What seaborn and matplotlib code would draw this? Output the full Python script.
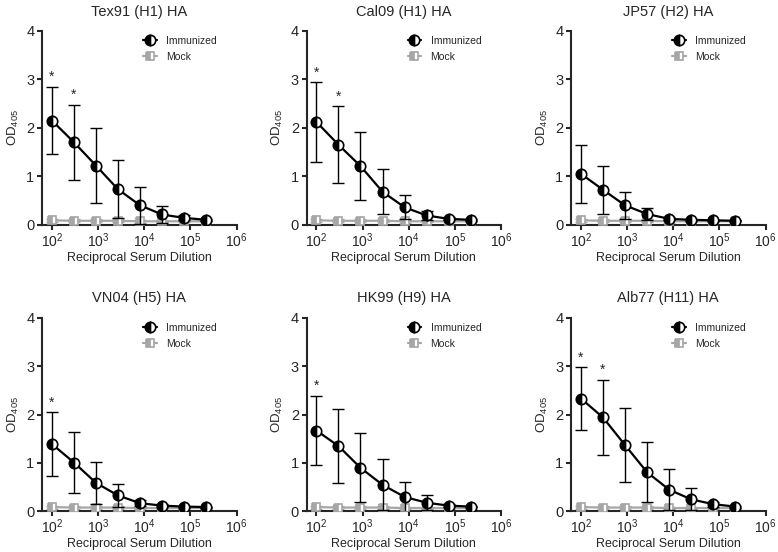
import numpy as np
import pandas as pd
import matplotlib
matplotlib.use("Agg")
import matplotlib.pyplot as plt
import seaborn as sns

# ==============================
# Data
# ==============================
dilution = [100, 300, 900, 2700, 8100, 24300, 72900, 218700]

panel_titles = ["Tex91 (H1) HA", "Cal09 (H1) HA", "JP57 (H2) HA",
                "VN04 (H5) HA", "HK99 (H9) HA", "Alb77 (H11) HA"]

tex91_mean = [2.15, 1.70, 1.22, 0.73, 0.40, 0.21, 0.14, 0.10]
tex91_err = [0.70, 0.78, 0.77, 0.60, 0.38, 0.17, 0.05, 0.02]
cal09_mean = [2.12, 1.65, 1.21, 0.68, 0.36, 0.19, 0.12, 0.10]
cal09_err = [0.83, 0.80, 0.71, 0.47, 0.25, 0.10, 0.03, 0.02]
jp57_mean = [1.05, 0.72, 0.40, 0.22, 0.12, 0.10, 0.09, 0.08]
jp57_err = [0.60, 0.50, 0.28, 0.13, 0.03, 0.02, 0.01, 0.01]
vn04_mean = [1.39, 1.01, 0.59, 0.33, 0.17, 0.12, 0.10, 0.09]
vn04_err = [0.66, 0.62, 0.43, 0.23, 0.06, 0.03, 0.02, 0.01]
hk99_mean = [1.67, 1.35, 0.90, 0.55, 0.30, 0.18, 0.12, 0.10]
hk99_err = [0.72, 0.77, 0.71, 0.53, 0.31, 0.15, 0.03, 0.01]
alb77_mean = [2.33, 1.94, 1.37, 0.81, 0.45, 0.25, 0.15, 0.10]
alb77_err = [0.65, 0.78, 0.77, 0.62, 0.42, 0.23, 0.05, 0.02]

mock_mean = [0.09, 0.08, 0.08, 0.08, 0.07, 0.07, 0.07, 0.07]
mock_err = [0.03, 0.03, 0.03, 0.03, 0.03, 0.02, 0.02, 0.02]

# indices of points marked with an asterisk
stars = [[0, 1], [0, 1], [], [0], [0], [0, 1]]

immunized = [(tex91_mean, tex91_err), (cal09_mean, cal09_err), (jp57_mean, jp57_err),
             (vn04_mean, vn04_err), (hk99_mean, hk99_err), (alb77_mean, alb77_err)]

# ==============================
# Style
# ==============================
sns.set_style("ticks")
plt.rcParams["font.family"] = ["Liberation Sans", "DejaVu Sans"]
plt.rcParams["mathtext.fontset"] = "custom"
plt.rcParams["mathtext.rm"] = "Liberation Sans"
plt.rcParams["mathtext.it"] = "Liberation Sans:italic"
plt.rcParams["mathtext.bf"] = "Liberation Sans:bold"
plt.rcParams["axes.linewidth"] = 1.5
plt.rcParams["xtick.major.width"] = 1.5
plt.rcParams["ytick.major.width"] = 1.5
plt.rcParams["xtick.major.size"] = 3.5
plt.rcParams["ytick.major.size"] = 3.5

GRAY = "#a6a6a6"

fig, axes = plt.subplots(2, 3, figsize=(7.78, 5.52), dpi=100)
fig.subplots_adjust(left=0.054, right=0.984, bottom=0.0735, top=0.944,
                    wspace=0.36, hspace=0.48)

for i, ax in enumerate(axes.flat):
    mean, err = immunized[i]
    df_imm = pd.DataFrame({"dil": dilution, "od": mean})
    df_mock = pd.DataFrame({"dil": dilution, "od": mock_mean})

    ax.errorbar(dilution, mock_mean, yerr=mock_err, fmt="none", ecolor=GRAY,
                elinewidth=1, capsize=4, capthick=1, zorder=2)
    sns.lineplot(data=df_mock, x="dil", y="od", ax=ax, color=GRAY, lw=1.6,
                 marker="s", ms=6, fillstyle="left", markerfacecoloralt="white",
                 markeredgecolor=GRAY, markeredgewidth=1.2, label="Mock", zorder=3)

    ax.errorbar(dilution, mean, yerr=err, fmt="none", ecolor="black",
                elinewidth=1, capsize=4, capthick=1, zorder=4)
    sns.lineplot(data=df_imm, x="dil", y="od", ax=ax, color="black", lw=1.6,
                 marker="o", ms=7.5, fillstyle="left", markerfacecoloralt="white",
                 markeredgecolor="black", markeredgewidth=1.2, label="Immunized", zorder=5)

    for j in stars[i]:
        ax.text(dilution[j], mean[j] + err[j] + 0.05, "*", ha="center", va="bottom",
                fontsize=10)

    ax.set_xscale("log")
    ax.set_xlim(10 ** 1.785, 1e6)
    ax.set_ylim(0, 4)
    ax.set_xticks([1e2, 1e3, 1e4, 1e5, 1e6])
    ax.set_xticklabels([f"$10^{k}$" for k in range(2, 7)])
    ax.xaxis.set_minor_locator(matplotlib.ticker.NullLocator())
    ax.set_yticks([0, 1, 2, 3, 4])
    ax.tick_params(axis="y", labelsize=10.5, pad=2)
    ax.tick_params(axis="x", labelsize=10, pad=1)
    ax.set_xlabel("Reciprocal Serum Dilution", fontsize=9, labelpad=1.5)
    ax.set_ylabel("OD$_{405}$", fontsize=9.5)
    ax.set_title(panel_titles[i], fontsize=10.5, pad=11)
    sns.despine(ax=ax)

    handles, labels = ax.get_legend_handles_labels()
    order = [labels.index("Immunized"), labels.index("Mock")]
    ax.legend([handles[k] for k in order], [labels[k] for k in order],
              loc="upper left", frameon=False, fontsize=7.5, handlelength=1.3,
              handletextpad=0.9, labelspacing=0.6, borderpad=0, borderaxespad=0,
              bbox_to_anchor=(0.52, 0.975))

fig.savefig("out.png", dpi=100)
